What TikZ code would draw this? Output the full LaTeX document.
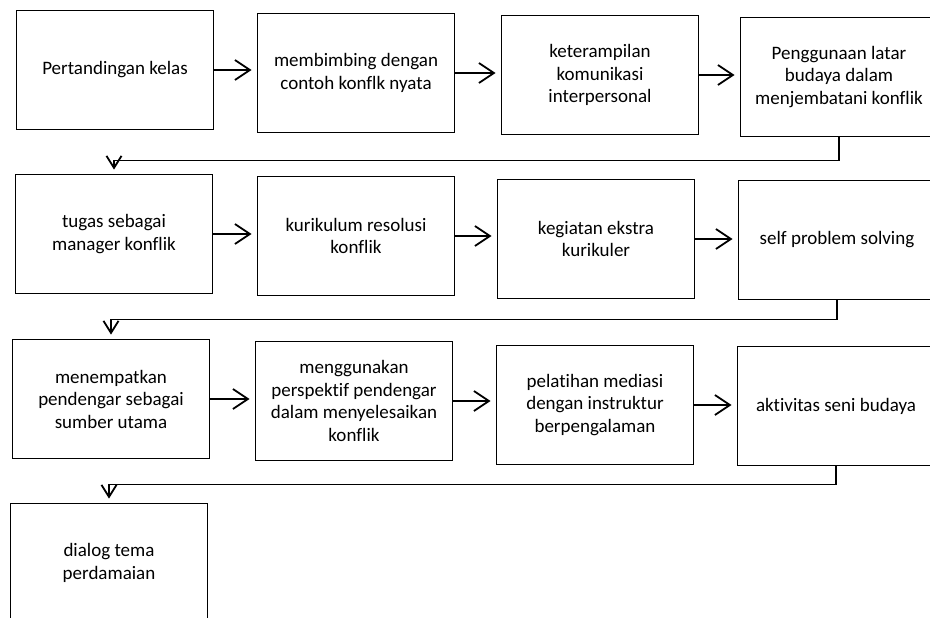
\documentclass[tikz,border=0pt]{standalone}
\usepackage{fontspec}
\setmainfont[Ligatures={NoCommon}]{Carlito}
\usetikzlibrary{arrows.meta}

\begin{document}
\begin{tikzpicture}[x=1pt, y=-1pt,
  stepbox/.style={draw, line width=1.8pt, minimum width=197pt, minimum height=119pt, align=center, inner sep=2pt, font=\fontsize{19}{22.5}\selectfont},
  flow/.style={line width=1.8pt, -{Straight Barb[length=15pt, width=20pt]}, shorten >=5pt},
  turn/.style={line width=1.8pt, -{Straight Barb[length=12pt, width=15pt]}, shorten >=4pt}]
\clip (0,0) rectangle (930,618);
% Row 1
\node[stepbox] (kelas) at (115,70) {Pertandingan kelas};
\node[stepbox] (contoh) at (356,73) {membimbing dengan\\contoh konflk nyata};
\node[stepbox] (komunikasi) at (600,75) {keterampilan\\komunikasi\\interpersonal};
\node[stepbox] (budaya) at (839,77) {Penggunaan latar\\budaya dalam\\menjembatani konflik};
% Row 2
\node[stepbox] (manager) at (114,234) {tugas sebagai\\manager konflik};
\node[stepbox] (kurikulum) at (356,236) {kurikulum resolusi\\konflik};
\node[stepbox] (ekstra) at (596,239) {kegiatan ekstra\\kurikuler};
\node[stepbox] (solving) at (837,240) {self problem solving};
% Row 3
\node[stepbox] (pendengar) at (111,399) {menempatkan\\pendengar sebagai\\sumber utama};
\node[stepbox] (perspektif) at (354,401) {menggunakan\\perspektif pendengar\\dalam menyelesaikan\\konflik};
\node[stepbox] (mediasi) at (595,405) {pelatihan mediasi\\dengan instruktur\\berpengalaman};
\node[stepbox] (seni) at (836,406) {aktivitas seni budaya};
% Row 4
\node[stepbox] (dialog) at (109,563) {dialog tema\\perdamaian};

% Arrows along each row
\draw[flow] (kelas.east) -- (kelas.east -| contoh.west);
\draw[flow] (contoh.east) -- (contoh.east -| komunikasi.west);
\draw[flow] (komunikasi.east) -- (komunikasi.east -| budaya.west);
\draw[flow] (manager.east) -- (manager.east -| kurikulum.west);
\draw[flow] (kurikulum.east) -- (kurikulum.east -| ekstra.west);
\draw[flow] (ekstra.east) -- (ekstra.east -| solving.west);
\draw[flow] (pendengar.east) -- (pendengar.east -| perspektif.west);
\draw[flow] (perspektif.east) -- (perspektif.east -| mediasi.west);
\draw[flow] (mediasi.east) -- (mediasi.east -| seni.west);

% Return lines to the next row
\draw[turn] (budaya.south) -- ++(0,23) -| (manager.north);
\draw[turn] (solving.south) -- ++(0,19) -| (pendengar.north);
\draw[turn] (seni.south) -- ++(0,18) -| (dialog.north);
\end{tikzpicture}
\end{document}
